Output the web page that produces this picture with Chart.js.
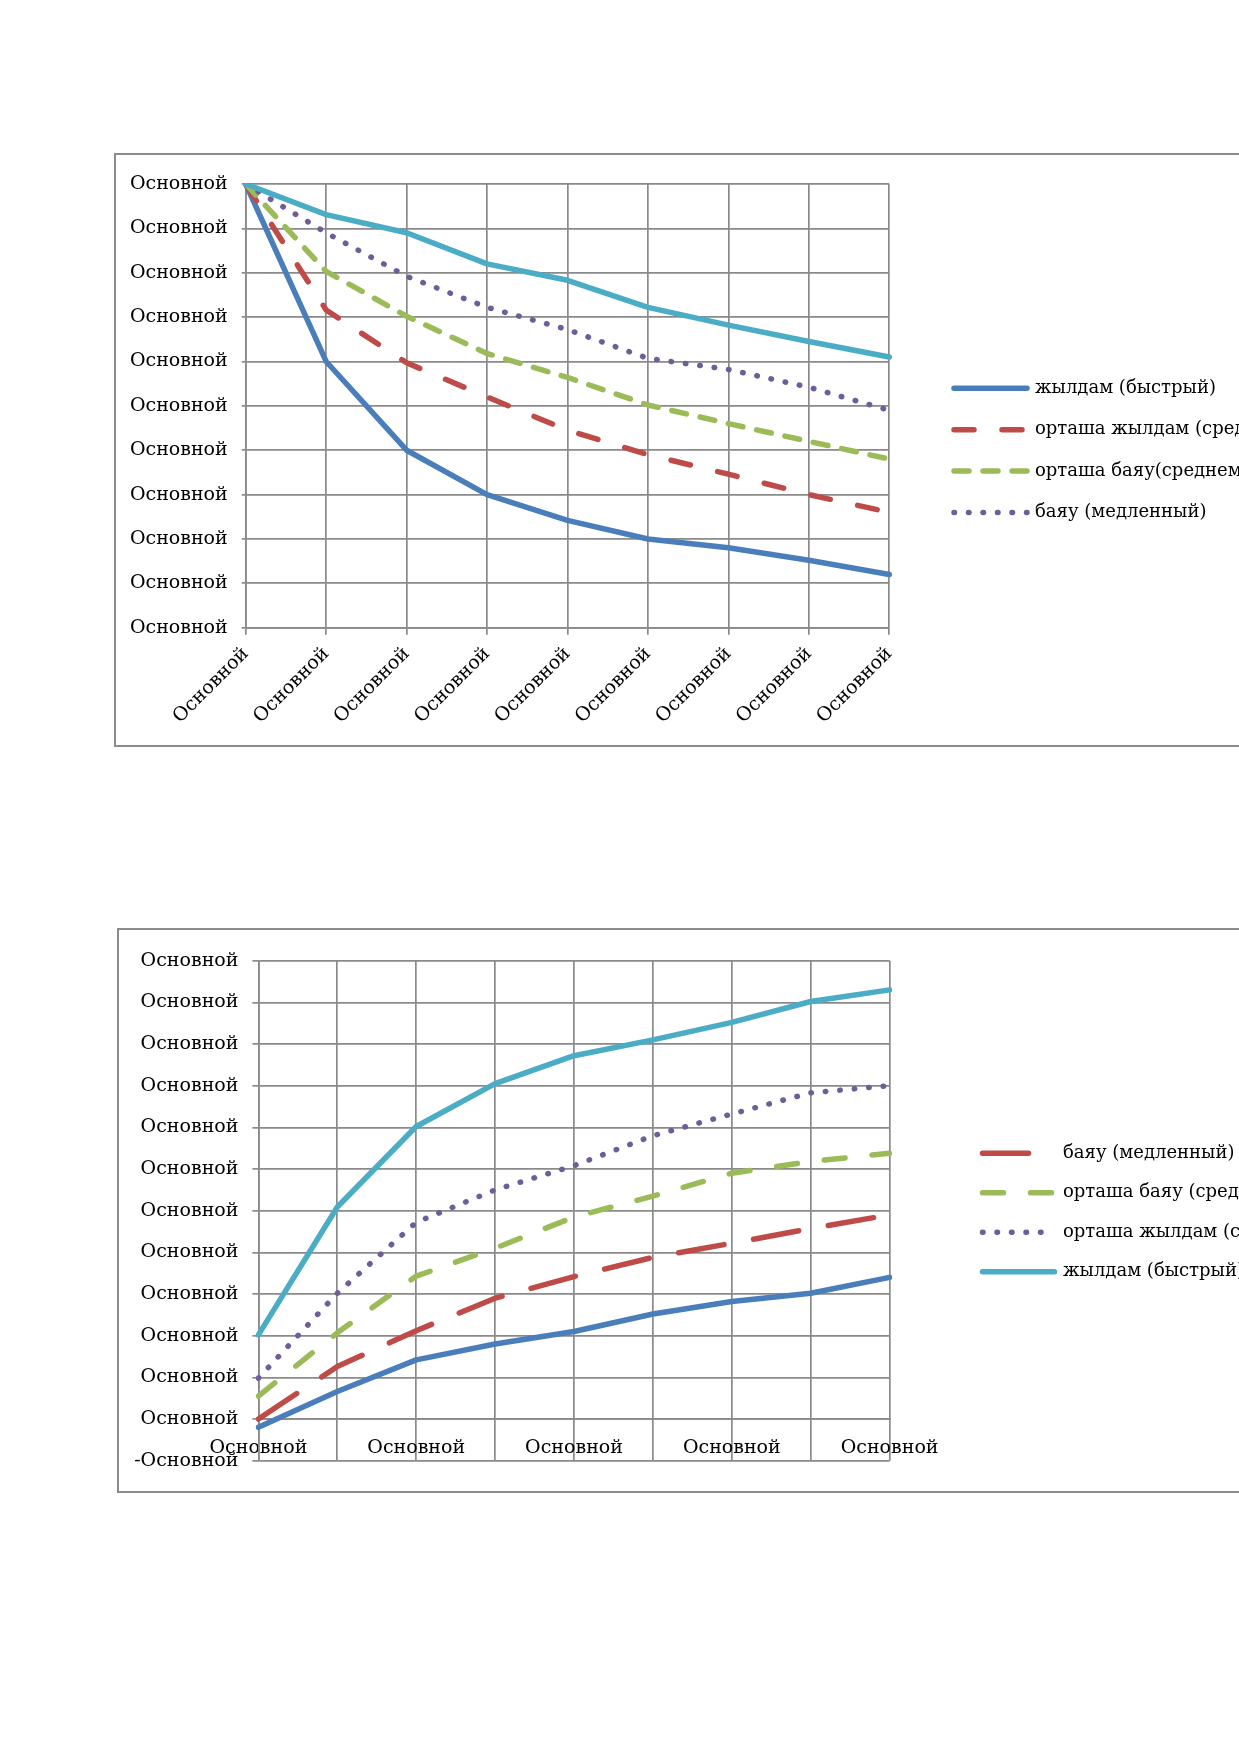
<!DOCTYPE html>
<html><head><meta charset="utf-8">
<script src="https://cdn.jsdelivr.net/npm/chart.js@4.4.1/dist/chart.umd.min.js"></script>
<style>
html,body{margin:0;padding:0;background:#fff;width:1239px;height:1752px;overflow:hidden;position:relative;}
.box{position:absolute;border:2px solid #8c8c8c;border-right:none;box-sizing:border-box;}
canvas{position:absolute;}
</style></head><body>
<div class="box" style="left:114px;top:153px;width:1140px;height:594px"></div>
<canvas id="c1" width="1124" height="593" style="left:115px;top:154px"></canvas>
<div class="box" style="left:117px;top:928px;width:1140px;height:565px"></div>
<canvas id="c2" width="1121" height="564" style="left:118px;top:929px"></canvas>
<script>
// ---------- data ----------
const categories1 = ['Основной','Основной','Основной','Основной','Основной','Основной','Основной','Основной','Основной'];
const yTickLabel1 = 'Основной';
const seriesNames1 = ['жылдам (быстрый)', 'орташа жылдам (среднебыстрый)', 'орташа баяу(среднемедленный)', 'баяу (медленный)', ''];
const fast1    = [10, 6.00, 4.00, 3.00, 2.42, 2.00, 1.80, 1.52, 1.20];
const medFast1 = [10, 7.16, 5.97, 5.20, 4.45, 3.90, 3.46, 3.00, 2.60];
const medSlow1 = [10, 8.03, 7.02, 6.18, 5.64, 5.02, 4.60, 4.20, 3.80];
const slow1    = [10, 8.90, 7.92, 7.22, 6.72, 6.07, 5.82, 5.42, 4.90];
const extra1   = [10, 9.31, 8.90, 8.20, 7.83, 7.22, 6.82, 6.45, 6.10];

const categories2 = ['Основной','Основной','Основной','Основной','Основной','Основной','Основной','Основной','Основной'];
const yTickLabel2 = 'Основной';
const yTickLabelNeg2 = '-Основной';
const seriesNames2 = ['баяу (медленный)', 'орташа баяу (среднемедленный)', 'орташа жылдам (среднебыстрый)', 'жылдам (быстрый)', ''];
const slow2    = [0.00, 1.26, 2.12, 2.90, 3.42, 3.88, 4.22, 4.57, 4.90];
const medSlow2 = [0.55, 2.07, 3.43, 4.10, 4.85, 5.35, 5.90, 6.18, 6.38];
const medFast2 = [0.98, 3.02, 4.72, 5.50, 6.08, 6.80, 7.32, 7.83, 8.00];
const fast2    = [2.02, 5.09, 7.02, 8.05, 8.72, 9.10, 9.52, 10.02, 10.30];
const extra2   = [-0.20, 0.66, 1.42, 1.80, 2.10, 2.52, 2.82, 3.02, 3.40];

// ---------- styles ----------
const FONT = "'DejaVu Serif', serif";
const C_BLUE = '#4a7ebb', C_RED = '#be4b48', C_GREEN = '#9bbb59', C_PURPLE = '#6f5d9a', C_CYAN = '#4bacc6';
const GRID = '#8a8a8a';
const LW = 5.5;

function ds(label, data, color, dash) {
  return { label, data, borderColor: color, backgroundColor: color, borderWidth: LW,
    borderDash: dash, borderCapStyle: 'round', borderJoinStyle: 'round',
    pointRadius: 0, pointHoverRadius: 0, fill: false, tension: 0 };
}

function makeLegend(cfg) {
  return {
    id: 'sideLegend',
    afterDraw(chart) {
      const ctx = chart.ctx;
      ctx.save();
      cfg.items.forEach((idx, i) => {
        const d = chart.data.datasets[idx];
        const y = cfg.y0 + i * cfg.dy;
        ctx.beginPath();
        ctx.lineWidth = d.borderWidth;
        ctx.strokeStyle = d.borderColor;
        ctx.lineCap = 'round';
        ctx.setLineDash(d.borderDash || []);
        ctx.moveTo(cfg.x0, y);
        ctx.lineTo(cfg.x1, y);
        ctx.stroke();
        ctx.setLineDash([]);
        ctx.fillStyle = '#000';
        ctx.font = '18px ' + FONT;
        ctx.textBaseline = 'middle';
        ctx.textAlign = 'left';
        ctx.fillText(d.label, cfg.tx, y);
      });
      ctx.restore();
    }
  };
}

const tickFont = { family: FONT, size: 19 };

// ---------- chart 1 ----------
new Chart(document.getElementById('c1'), {
  type: 'line',
  data: {
    labels: categories1,
    datasets: [
      ds(seriesNames1[4], extra1, C_CYAN, []),
      ds(seriesNames1[3], slow1, C_PURPLE, [0.5, 14]),
      ds(seriesNames1[2], medSlow1, C_GREEN, [15, 14]),
      ds(seriesNames1[1], medFast1, C_RED, [20, 28]),
      ds(seriesNames1[0], fast1, C_BLUE, [])
    ]
  },
  options: {
    responsive: false, animation: false, devicePixelRatio: 1,
    layout: { padding: { left: 0, top: 30, right: 349.7, bottom: 0 } },
    plugins: { legend: { display: false }, tooltip: { enabled: false } },
    scales: {
      x: {
        grid: { color: GRID, lineWidth: 1.7, tickLength: 7 },
        border: { color: GRID, width: 1.7 },
        ticks: { minRotation: 45, maxRotation: 45, autoSkip: false, padding: 8, color: '#000', font: tickFont },
        afterFit(s) { s.height = 119.3; }
      },
      y: {
        min: 0, max: 10,
        grid: { color: GRID, lineWidth: 1.7, tickLength: 4 },
        border: { color: GRID, width: 1.7 },
        ticks: { stepSize: 1, padding: 14, color: '#000', font: tickFont, callback: () => yTickLabel1 },
        afterFit(s) { s.width = 130.7; }
      }
    }
  },
  plugins: [makeLegend({ items: [4, 3, 2, 1], x0: 839, x1: 912, tx: 920, y0: 234.3, dy: 41.4 })]
});

// ---------- chart 2 ----------
new Chart(document.getElementById('c2'), {
  type: 'line',
  data: {
    labels: categories2,
    datasets: [
      ds(seriesNames2[4], extra2, C_BLUE, []),
      ds(seriesNames2[0], slow2, C_RED, [46, 30]),
      ds(seriesNames2[1], medSlow2, C_GREEN, [21, 27]),
      ds(seriesNames2[2], medFast2, C_PURPLE, [0.5, 14]),
      ds(seriesNames2[3], fast2, C_CYAN, [])
    ]
  },
  options: {
    responsive: false, animation: false, devicePixelRatio: 1,
    layout: { padding: { left: 0, top: 31.7, right: 349.4, bottom: 32.3 } },
    plugins: { legend: { display: false }, tooltip: { enabled: false } },
    scales: {
      x: {
        position: { y: 0 },
        grid: { color: GRID, lineWidth: 1.7, drawTicks: false },
        border: { color: GRID, width: 1.7 },
        ticks: { maxRotation: 0, minRotation: 0, autoSkip: false, padding: 18, color: '#000', font: tickFont,
          callback(v, i) { return i % 2 === 0 ? categories2[i] : ''; } }
      },
      y: {
        min: -1, max: 11,
        grid: { color: GRID, lineWidth: 1.7, tickLength: 6 },
        border: { color: GRID, width: 1.7 },
        ticks: { stepSize: 1, padding: 14, color: '#000', font: tickFont,
          callback: (v) => (v < 0 ? yTickLabelNeg2 : yTickLabel2) },
        afterFit(s) { s.width = 140.4; }
      }
    }
  },
  plugins: [makeLegend({ items: [1, 2, 3, 4], x0: 982.5 - 118, x1: 1054.5 - 118, tx: 945, y0: 224.3, dy: 39.5 })]
});
</script>
</body></html>
